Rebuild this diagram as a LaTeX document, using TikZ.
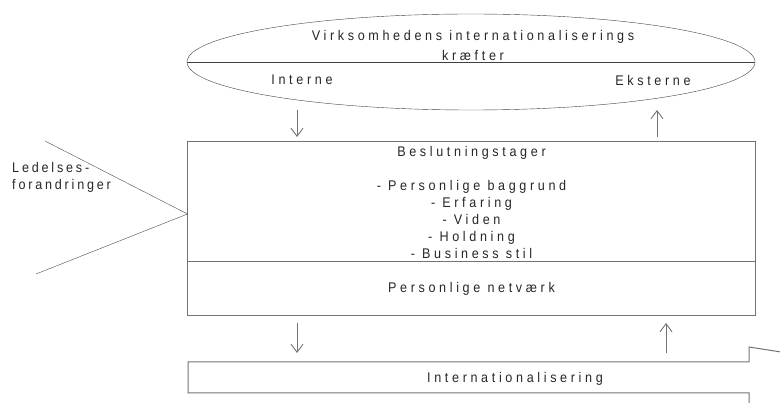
\documentclass[tikz,border=0pt]{standalone}
\usepackage{fontspec}
\newfontfamily\spaced{Liberation Sans}[FakeStretch=0.9,LetterSpace=26]
\definecolor{linecolor}{gray}{0.45}
\usetikzlibrary{arrows.meta,shapes,positioning}
\tikzset{
	forces/.style={
		ellipse,
		draw=black!75,
		thin,
		minimum width=568pt,
		minimum height=96pt,
		inner sep=0pt
	},
	txt/.style={
		font=\spaced\fontsize{14}{17}\selectfont,
		text=black!85,
		align=center,
		inner sep=0pt
	},
	block/.style={
		rectangle,
		draw=linecolor,
		line width=1pt,
		minimum width=568pt,
		outer sep=0pt,
		text centered
	},
	arrow/.style={
		draw=linecolor,
		line width=0.9pt,
		-{Straight Barb[length=8pt,width=12pt]}
	},
	spike/.style={
		draw=black!70,
		thin
	},
}

\begin{document}
\begin{tikzpicture}[x=1pt,y=-1pt]
			\useasboundingbox (0,0) rectangle (780,403);
			\node[forces] (forces) at (471,62) {};
			\draw[black!75,thin] (forces.west) -- (forces.east);
			\node[txt,font=\spaced\fontsize{14}{20}\selectfont] (title) at (473,45) {Virksomhedens internationaliserings\\kræfter};
			\node[txt] (intern) at (302,80) {Interne};
			\node[txt] (ekstern) at (653,80) {Eksterne};
			\node[block,txt,minimum height=120pt] (besl) at (471.5,202) {Beslutningstager\\ \\- Personlige baggrund\\- Erfaring\\- Viden\\- Holdning\\- Business stil};
			\node[block,txt,minimum height=54pt,below=0pt of besl] (netv) {Personlige netværk};
			\node[txt,align=left,anchor=west,font=\spaced\addfontfeatures{LetterSpace=20}\fontsize{14}{17}\selectfont] (ledelse) at (12,177) {Ledelses-\\forandringer};
			\coordinate (apex) at ([yshift=-12pt]besl.west);
			\coordinate (spiketop) at (45,141);
			\coordinate (spikebot) at (36,274);
			\draw[spike] (spiketop) -- (apex) -- (spikebot);
			\coordinate (inbeg) at (297,110);
			\coordinate (outend) at (657,110);
			\draw[arrow] (inbeg) -- ([yshift=5pt]inbeg |- besl.north);
			\draw[arrow] ([yshift=5pt]outend |- besl.north) -- (outend);
			\node[txt] (intl) at (515,379) {Internationalisering};
			\draw[block] (749,362) -- (188,362) -- (188,393) -- (749,393) -- (749,412) -- (800,404);
			\draw[block] (749,362) -- (749,347) -- (800,355);
			\coordinate (downend) at (297,353);
			\coordinate (upbeg) at (666,353);
			\draw[arrow] ([yshift=-7pt]downend |- netv.south) -- (downend);
			\draw[arrow] (upbeg) -- ([yshift=-7pt]upbeg |- netv.south);
\end{tikzpicture}
\end{document}
